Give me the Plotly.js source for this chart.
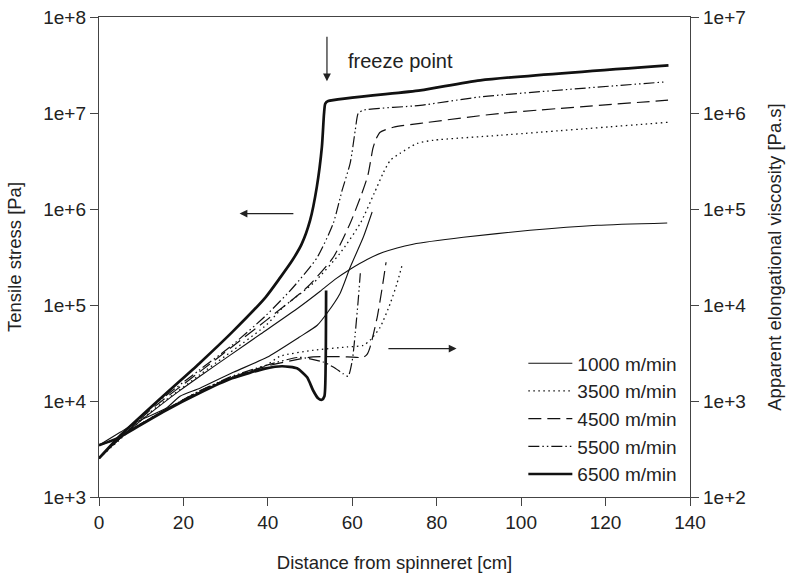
<!DOCTYPE html>
<html>
<head>
<meta charset="utf-8">
<script src="https://cdn.plot.ly/plotly-3.0.1.min.js"></script>
<style>html,body{margin:0;padding:0;background:#fff;} #chart{width:794px;height:578px;}</style>
</head>
<body>
<div id="chart"></div>
<script>
// Speeds (legend labels)
const speeds = ["1000 m/min", "3500 m/min", "4500 m/min", "5500 m/min", "6500 m/min"];

// Tensile stress [Pa] (left axis) : distance [cm] and values
const stress1000_x = [0, 5.0, 9.7, 14.5, 19.2, 23.9, 31.0, 38.2, 47.4, 52.4, 55.9, 59.5, 63.5, 67.3, 74.4, 86.3, 102.1, 118.0, 134.6];
const stress1000_y = [2530, 4080, 6140, 9010, 12900, 18100, 29900, 49500, 94700, 139000, 185000, 236000, 298000, 354000, 430000, 508000, 600000, 677000, 716000];

const stress3500_x = [0, 5.0, 12.1, 23.7, 39.6, 43.6, 50.7, 57.1, 61.9, 65.2, 67.3, 69.0, 71.3, 75.4, 79.2, 95.0, 134.8];
const stress3500_y = [2530, 3990, 7620, 18500, 61700, 94700, 168000, 346000, 710000, 1460000, 2360000, 3210000, 3800000, 4830000, 5200000, 5860000, 8000000];

const stress4500_x = [0, 5.0, 12.1, 23.7, 39.6, 49.3, 55.5, 59.5, 62.1, 63.7, 64.9, 65.6, 66.6, 69.7, 76.1, 95.0, 134.8];
const stress4500_y = [2530, 4080, 8000, 19900, 69200, 153000, 314000, 710000, 1390000, 2250000, 4300000, 5330000, 6300000, 7100000, 7800000, 9900000, 13600000];

const stress5500_x = [0, 5.0, 12.1, 23.7, 31.5, 39.6, 46.0, 51.7, 55.5, 57.6, 59.5, 60.7, 61.4, 62.6, 76.1, 90.3, 133.7];
const stress5500_y = [2530, 4190, 8390, 20900, 38000, 78200, 153000, 314000, 710000, 1570000, 3000000, 6600000, 9900000, 10700000, 12000000, 14700000, 21000000];

const stress6500_x = [0, 4.7, 15.8, 23.7, 31.6, 39.5, 43.0, 45.8, 48.0, 50.0, 51.6, 52.8, 53.3, 53.6, 54.3, 76.1, 90.3, 134.9];
const stress6500_y = [2530, 4220, 11900, 24500, 52500, 121000, 195000, 292000, 430000, 760000, 1700000, 4430000, 9770000, 12500000, 13300000, 17200000, 21900000, 31400000];

// Apparent elongational viscosity [Pa.s] (right axis)
const visc1000_x = [0, 5.0, 9.7, 15.9, 19.2, 23.9, 31.8, 39.8, 47.4, 51.7, 54.0, 57.1, 59.5, 62.6, 64.7];
const visc1000_y = [346, 472, 630, 840, 1120, 1358, 1990, 2850, 4610, 6150, 8200, 13200, 24700, 50700, 93000];

const visc3500_x = [0, 4.3, 9.7, 15.9, 23.7, 31.5, 39.6, 42.9, 50.7, 58.8, 62.6, 64.2, 66.6, 69.0, 70.6, 71.8];
const visc3500_y = [346, 408, 571, 820, 1262, 1766, 2354, 2925, 3375, 3655, 3800, 4285, 5860, 10400, 16800, 26000];

const visc4500_x = [0, 4.3, 9.7, 15.9, 23.7, 31.5, 39.6, 47.4, 50.7, 58.8, 62.6, 63.5, 64.2, 65.9, 67.1, 68.0];
const visc4500_y = [346, 408, 571, 820, 1262, 1766, 2300, 2725, 2887, 2887, 2850, 3060, 3620, 7440, 15300, 27900];

const visc5500_x = [0, 4.3, 9.7, 15.9, 23.7, 31.5, 39.6, 47.4, 53.1, 55.5, 57.8, 59.0, 60.0, 60.7, 61.4, 61.9];
const visc5500_y = [346, 408, 571, 820, 1262, 1807, 2354, 2850, 2547, 2260, 1928, 1807, 2655, 5070, 11200, 21400];

const visc6500_x = [0, 4.3, 9.7, 15.9, 23.7, 31.5, 39.6, 43.4, 46.9, 49.3, 50.7, 51.9, 52.8, 53.4, 53.7, 53.8];
const visc6500_y = [346, 408, 558, 800, 1202, 1722, 2190, 2300, 2190, 1766, 1294, 1067, 1030, 1120, 2650, 14200];

// Axis ticks
const xTicks = [0, 20, 40, 60, 80, 100, 120, 140];
const leftTickVals = [1e3, 1e4, 1e5, 1e6, 1e7, 1e8];
const leftTickText = ["1e+3", "1e+4", "1e+5", "1e+6", "1e+7", "1e+8"];
const rightTickVals = [1e2, 1e3, 1e4, 1e5, 1e6, 1e7];
const rightTickText = ["1e+2", "1e+3", "1e+4", "1e+5", "1e+6", "1e+7"];

const styles = [
  {width: 1.1, dash: "solid"},
  {width: 1.3, dash: "1.5px,3.5px"},
  {width: 1.2, dash: "13px,6px"},
  {width: 1.2, dash: "11px,3px,1.5px,3px,1.5px,3px"},
  {width: 2.7, dash: "solid"}
];

const stressX = [stress1000_x, stress3500_x, stress4500_x, stress5500_x, stress6500_x];
const stressY = [stress1000_y, stress3500_y, stress4500_y, stress5500_y, stress6500_y];
const viscX = [visc1000_x, visc3500_x, visc4500_x, visc5500_x, visc6500_x];
const viscY = [visc1000_y, visc3500_y, visc4500_y, visc5500_y, visc6500_y];

const traces = [];
for (let i = 0; i < speeds.length; i++) {
  traces.push({
    x: stressX[i], y: stressY[i], type: "scatter", mode: "lines",
    name: speeds[i], legendgroup: speeds[i], showlegend: true,
    line: {color: "#111", width: styles[i].width, dash: styles[i].dash, shape: "spline", smoothing: 0.6},
    xaxis: "x", yaxis: "y"
  });
}
for (let i = 0; i < speeds.length; i++) {
  traces.push({
    x: viscX[i], y: viscY[i], type: "scatter", mode: "lines",
    name: speeds[i], legendgroup: speeds[i], showlegend: false,
    line: {color: "#111", width: styles[i].width, dash: styles[i].dash, shape: "spline", smoothing: 0.6},
    xaxis: "x", yaxis: "y2"
  });
}

const fam = "Liberation Sans, Arial, sans-serif";
const tickFont = {family: fam, size: 19, color: "#222"};
const titleFont = {family: fam, size: 18.5, color: "#222"};
const textFont = {family: fam, size: 20, color: "#222"};

const layout = {
  width: 794, height: 578,
  margin: {l: 99, r: 104, t: 17, b: 81},
  paper_bgcolor: "#fff", plot_bgcolor: "#fff",
  font: tickFont,
  showlegend: true,
  legend: {x: 0.718, y: 0.318, xanchor: "left", yanchor: "top", bgcolor: "rgba(0,0,0,0)",
           borderwidth: 0, itemwidth: 44, font: {family: fam, size: 19, color: "#222"}, tracegroupgap: 0},
  xaxis: {
    range: [0, 140], tickvals: xTicks, ticks: "outside", ticklen: 8, tickcolor: "#444",
    showline: true, linecolor: "#444", linewidth: 1.2, mirror: true, showgrid: false, zeroline: false,
    tickfont: tickFont,
    title: {text: "Distance from spinneret [cm]", font: titleFont, standoff: 24}
  },
  yaxis: {
    type: "log", range: [3, 8], tickvals: leftTickVals, ticktext: leftTickText,
    ticks: "outside", ticklen: 8, tickcolor: "#444",
    showline: true, linecolor: "#444", linewidth: 1.2, showgrid: false, zeroline: false,
    tickfont: tickFont,
    title: {text: "Tensile stress [Pa]", font: titleFont, standoff: 16}
  },
  yaxis2: {
    type: "log", range: [2, 7], tickvals: rightTickVals, ticktext: rightTickText,
    overlaying: "y", side: "right", anchor: "x",
    ticks: "outside", ticklen: 8, tickcolor: "#444",
    showline: true, linecolor: "#444", linewidth: 1.2, showgrid: false, zeroline: false,
    tickfont: tickFont,
    title: {text: "Apparent elongational viscosity [Pa.s]", font: titleFont, standoff: 22}
  },
  annotations: [
    {xref: "x", yref: "y", axref: "x", ayref: "y", x: 54.0, y: 7.33, ax: 54.0, ay: 7.81,
     showarrow: true, arrowhead: 2, arrowsize: 1.3, arrowwidth: 1.2, arrowcolor: "#222", text: ""},
    {xref: "x", yref: "y", x: 58.4, y: 7.54, xanchor: "left", yanchor: "middle",
     showarrow: false, text: "freeze point", font: textFont},
    {xref: "x", yref: "y", axref: "x", ayref: "y", x: 33.3, y: 5.952, ax: 46.4, ay: 5.952,
     showarrow: true, arrowhead: 2, arrowsize: 1.3, arrowwidth: 1.2, arrowcolor: "#222", text: ""},
    {xref: "x", yref: "y", axref: "x", ayref: "y", x: 84.7, y: 4.546, ax: 68.2, ay: 4.546,
     showarrow: true, arrowhead: 2, arrowsize: 1.3, arrowwidth: 1.2, arrowcolor: "#222", text: ""}
  ]
};

Plotly.newPlot("chart", traces, layout, {staticPlot: true, displayModeBar: false});
</script>
</body>
</html>
